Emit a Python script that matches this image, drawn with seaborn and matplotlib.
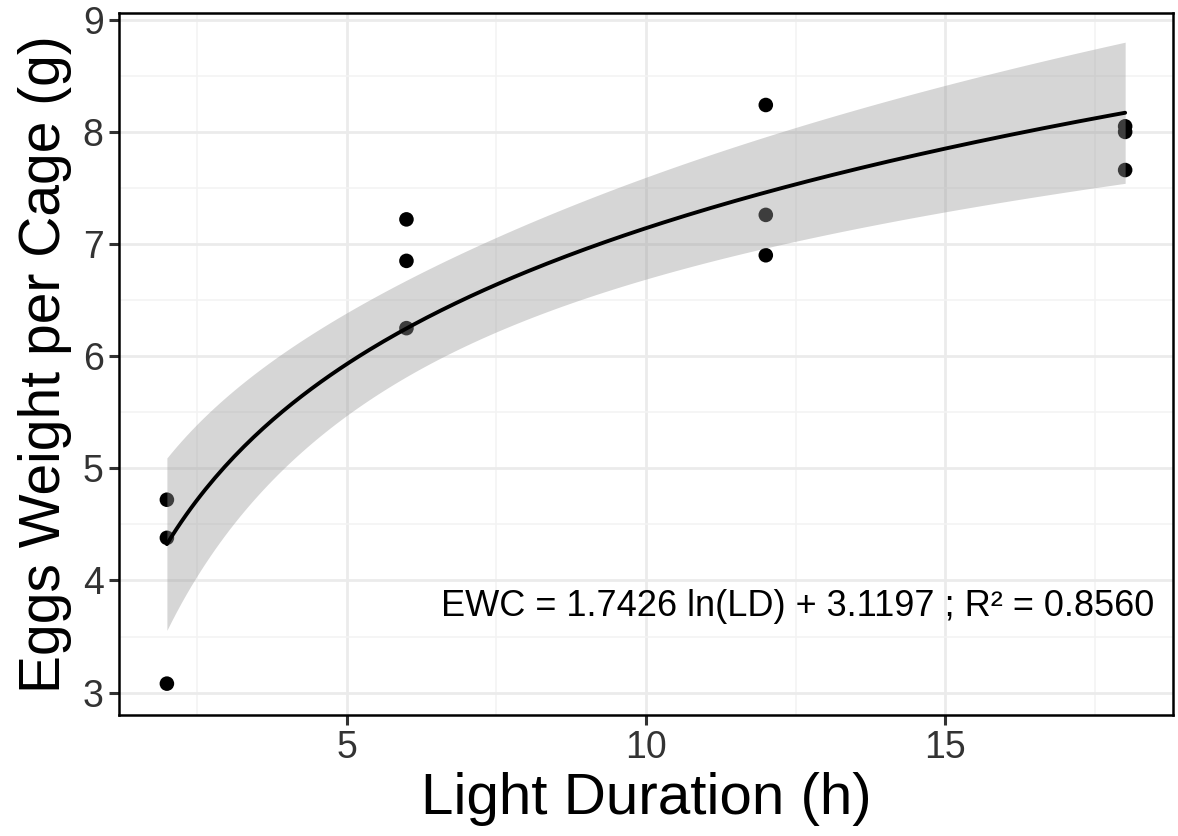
import numpy as np
import pandas as pd
import matplotlib
matplotlib.use("Agg")
import matplotlib.pyplot as plt
import seaborn as sns

# Data
light_hours = [2, 2, 2, 6, 6, 6, 12, 12, 12, 18, 18, 18]
egg_weight = [4.72, 4.38, 3.08, 7.22, 6.85, 6.25, 8.24, 7.26, 6.90, 8.05, 8.00, 7.66]
x_ticks = [5, 10, 15]
y_ticks = [3, 4, 5, 6, 7, 8, 9]
equation = "EWC = 1.7426 ln(LD) + 3.1197 ; R\u00b2 = 0.8560"

df = pd.DataFrame({"LD": light_hours, "EWC": egg_weight})

# log fit y ~ ln(x) with 95% confidence band (lm style)
lx = np.log(df["LD"].values)
y = df["EWC"].values
b, a = np.polyfit(lx, y, 1)
n = len(y)
resid = y - (a + b * lx)
s = np.sqrt(np.sum(resid ** 2) / (n - 2))
sxx = np.sum((lx - lx.mean()) ** 2)
t_crit = 2.228  # t(0.975, df=10)
xs = np.linspace(df["LD"].min(), df["LD"].max(), 200)
fit = a + b * np.log(xs)
se = s * np.sqrt(1 / n + (np.log(xs) - lx.mean()) ** 2 / sxx)
curve = pd.DataFrame({"LD": xs, "fit": fit, "lo": fit - t_crit * se, "hi": fit + t_crit * se})

sns.set_theme(style="white")
plt.rcParams["font.family"] = ["Liberation Sans", "DejaVu Sans"]

fig = plt.figure(figsize=(11.78, 8.36), dpi=100)
ax = fig.add_axes([0.101, 0.1447, 0.8948, 0.8397])

sns.scatterplot(data=df, x="LD", y="EWC", color="black", s=110, edgecolor="none", ax=ax, zorder=3)
ax.fill_between(curve["LD"], curve["lo"], curve["hi"], color="#999999", alpha=0.4, lw=0, zorder=4)
sns.lineplot(data=curve, x="LD", y="fit", color="black", lw=2.8, ax=ax, zorder=5)

ax.set_xlim(1.2, 18.8)
ax.set_ylim(2.80, 9.06)
ax.set_xticks(x_ticks)
ax.set_yticks(y_ticks)
ax.set_xticks([2.5, 7.5, 12.5, 17.5], minor=True)
ax.set_yticks([3.5, 4.5, 5.5, 6.5, 7.5, 8.5], minor=True)
ax.grid(True, which="major", color="#ebebeb", lw=2.0, zorder=0)
ax.grid(True, which="minor", color="#f3f3f3", lw=1.2, zorder=0)
ax.set_axisbelow(True)

for sp in ax.spines.values():
    sp.set_color("black")
    sp.set_linewidth(1.8)

ax.tick_params(axis="both", which="major", direction="out", length=7, width=2.2,
               color="#333333", labelsize=27, labelcolor="#333333", pad=4, bottom=True, left=True)
ax.tick_params(axis="both", which="minor", length=0)

ax.set_xlabel("Light Duration (h)", fontsize=42, color="black", labelpad=4)
ax.set_ylabel("Eggs Weight per Cage (g)", fontsize=41, color="black", labelpad=8)

ax.text(18.48, 3.77, equation, ha="right", va="center", fontsize=26, color="black", zorder=6)

fig.savefig("out.png", dpi=100)
